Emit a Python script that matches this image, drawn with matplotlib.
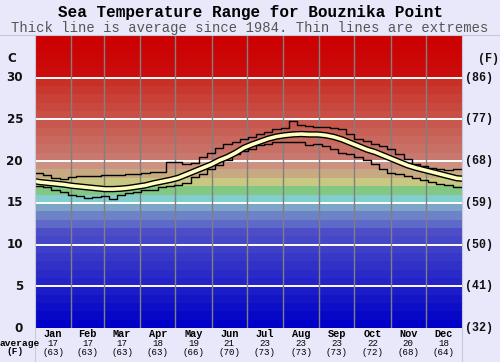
import matplotlib
matplotlib.use("Agg")
import matplotlib.pyplot as plt
import matplotlib.patheffects as pe
from matplotlib.lines import Line2D
import numpy as np

# weekly values, deg C (week 0 starts 1 Jan)
avg_c = [17.5, 17.4, 17.3, 17.2, 17.05, 16.95, 16.85, 16.75, 16.65, 16.65,
         16.7, 16.8, 16.95, 17.1, 17.35, 17.55, 17.75, 18.0, 18.4, 18.8,
         19.2, 19.6, 20.1, 20.5, 21.0, 21.6, 22.0, 22.35, 22.7, 22.95,
         23.1, 23.2, 23.25, 23.2, 23.2, 23.1, 22.9, 22.6, 22.2, 21.8,
         21.4, 21.1, 20.7, 20.3, 19.9, 19.5, 19.2, 18.95, 18.7, 18.45,
         18.2, 17.95]
max_c = [18.6, 18.3, 18.0, 17.9, 18.1, 18.2, 18.2, 18.2, 18.3, 18.3,
         18.3, 18.4, 18.5, 18.6, 18.7, 18.7, 19.9, 19.9, 19.7, 19.8,
         20.5, 21.0, 21.6, 22.0, 22.3, 22.6, 22.9, 23.3, 23.5, 23.8,
         24.0, 24.8, 24.3, 24.2, 24.1, 24.1, 24.0, 23.8, 23.3, 22.7,
         22.4, 22.1, 21.8, 21.4, 20.9, 20.2, 19.7, 19.4, 19.2, 19.0,
         18.9, 19.0]
min_c = [17.0, 16.9, 16.6, 16.3, 16.0, 15.8, 15.6, 15.7, 15.8, 15.5,
         16.0, 16.2, 16.3, 16.5, 16.6, 16.9, 17.0, 17.2, 17.4, 18.1,
         18.5, 19.0, 19.5, 20.1, 20.8, 21.2, 21.5, 21.9, 22.1, 22.3,
         22.35, 22.3, 22.3, 21.9, 22.1, 21.8, 21.5, 21.0, 20.8, 20.5,
         20.1, 19.6, 19.0, 18.6, 18.4, 18.2, 18.0, 17.7, 17.5, 17.3,
         17.1, 16.9]

months = ["Jan", "Feb", "Mar", "Apr", "May", "Jun",
          "Jul", "Aug", "Sep", "Oct", "Nov", "Dec"]
month_days = [31, 28, 31, 30, 31, 30, 31, 31, 30, 31, 30, 31]
month_avg_c = [17, 17, 17, 18, 19, 21, 23, 23, 23, 22, 20, 18]
month_avg_f = [63, 63, 63, 63, 66, 70, 73, 73, 73, 72, 68, 64]
c_ticks = [0, 5, 10, 15, 20, 25, 30]
f_ticks = [32, 41, 50, 59, 68, 77, 86]

mono = "Liberation Mono"
bg = "#e8e8fa"


def band_color(t):
    # colour of the 1 degree band starting at t
    if t < 12:
        k = 7 * t
        return (k / 255, k / 255, 200 / 255)
    fixed = {12: (95, 105, 200), 13: (110, 130, 200), 14: (125, 165, 200),
             15: (130, 205, 205), 16: (130, 200, 130), 17: (200, 200, 130),
             18: (200, 170, 130), 19: (205, 145, 130)}
    if t in fixed:
        return tuple(v / 255 for v in fixed[t])
    if t < 30:
        k = 120 - (t - 20) * 8
        return (200 / 255, k / 255, (k - 10) / 255 if k > 10 else 0)
    k = 12 - (t - 30) * 3
    return (204 / 255, k / 255, k / 255)


fig = plt.figure(figsize=(5.0, 3.62), dpi=100, facecolor=bg)
ax = fig.add_axes([35 / 500, 1 - 328 / 362, 427 / 500, 292 / 362])

for t in range(35):
    ax.axhspan(t, t + 1, color=band_color(t), lw=0, zorder=0)

for c in c_ticks[1:]:
    ax.axhline(c, color="white", lw=1.4, zorder=1)

edges = np.concatenate([[0], np.cumsum(month_days)])
for e in edges[1:-1]:
    ax.axvline(e, color="#808080", lw=1, zorder=1)

wk = np.arange(len(avg_c) + 1) * 7.0
wk[-1] = 365
ax.step(wk, max_c + [max_c[-1]], where="post", color="black", lw=1, zorder=3)
ax.step(wk, min_c + [min_c[-1]], where="post", color="black", lw=1, zorder=3)
mid = np.arange(len(avg_c)) * 7.0 + 3.5
mid = np.concatenate([[0], mid, [365]])
avg_line = [avg_c[0] + 0.1] + avg_c + [avg_c[-1] - 0.05]
ax.plot(mid, avg_line, color="#ffffc0", lw=2.6, zorder=4,
        path_effects=[pe.Stroke(linewidth=4.6, foreground="black"), pe.Normal()])

ax.set_xlim(0, 365)
ax.set_ylim(0, 35)
ax.set_xticks([])
ax.set_yticks([])
for s in ax.spines.values():
    s.set_visible(False)

# left / right scale labels
for c, f in zip(c_ticks, f_ticks):
    ax.text(-0.028, c, str(c), transform=ax.get_yaxis_transform(),
            ha="right", va="center", fontsize=8.6, fontweight="bold", color="#111111")
    ax.text(1.008, c, "(%d)" % f, transform=ax.get_yaxis_transform(),
            ha="left", va="center", fontsize=8.4, fontweight="bold",
            family=mono, color="#111111")
ax.text(-0.045, 32.3, "C", transform=ax.get_yaxis_transform(),
        ha="right", va="center", fontsize=8.6, fontweight="bold", color="#111111")
ax.text(1.038, 32.3, "(F)", transform=ax.get_yaxis_transform(),
        ha="left", va="center", fontsize=8.4, fontweight="bold",
        family=mono, color="#111111")

# month table below
centers = (edges[:-1] + edges[1:]) / 2
for m, x, ac, af in zip(months, centers, month_avg_c, month_avg_f):
    ax.text(x, -0.022, m, transform=ax.get_xaxis_transform(), ha="center",
            va="center", fontsize=7.4, fontweight="bold", family=mono)
    ax.text(x, -0.052, str(ac), transform=ax.get_xaxis_transform(),
            ha="center", va="center", fontsize=6.6, family=mono)
    ax.text(x, -0.083, "(%d)" % af, transform=ax.get_xaxis_transform(),
            ha="center", va="center", fontsize=6.6, family=mono)
fig.text(20 / 500, 1 - 343 / 362, "average", ha="center", va="center",
         fontsize=6.8, fontweight="bold", family=mono)
fig.text(15 / 500, 1 - 352 / 362, "(F)", ha="center", va="center",
         fontsize=6.8, fontweight="bold", family=mono)

# frame lines
lc = "#c8c8d8"
fig.add_artist(Line2D([0, 1], [1 - 35 / 362] * 2, color=lc, lw=0.8))
fig.add_artist(Line2D([35 / 500] * 2, [0, 1 - 35 / 362], color=lc, lw=0.8))
fig.add_artist(Line2D([462 / 500] * 2, [0, 1 - 35 / 362], color=lc, lw=0.8))

fig.text(0.5, 1 - 13 / 362, "Sea Temperature Range for Bouznika Point",
         ha="center", va="center", fontsize=11.5, fontweight="bold", family=mono)
fig.text(0.5, 1 - 28 / 362,
         "Thick line is average since 1984. Thin lines are extremes",
         ha="center", va="center", fontsize=10, family=mono, color="#555555")

fig.savefig("out.png", dpi=100, facecolor=bg)
